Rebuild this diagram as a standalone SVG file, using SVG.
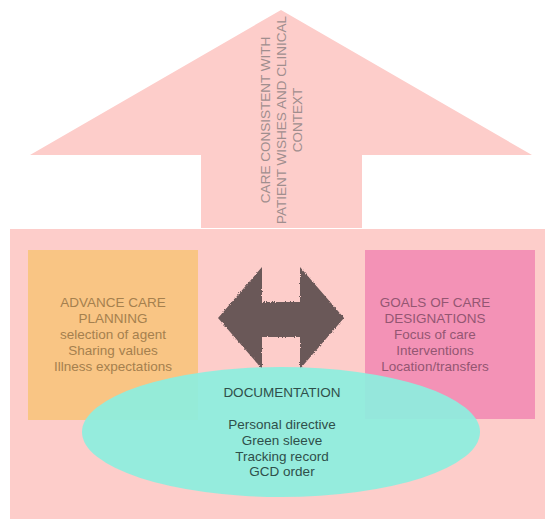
<svg xmlns="http://www.w3.org/2000/svg" width="545" height="519" viewBox="0 0 545 519">
<defs>
<style>
text{font-family:"Liberation Sans",Arial,sans-serif;font-size:13.5px;text-anchor:middle}
.up{fill:#a08e8e}
.acp{fill:#a5804e}
.gcd{fill:#935672}
.doc{fill:#2f4f4a}
</style>
<filter id="rough" x="-10%" y="-10%" width="120%" height="120%">
<feTurbulence type="fractalNoise" baseFrequency="0.9" numOctaves="2" seed="3" result="n"/>
<feDisplacementMap in="SourceGraphic" in2="n" scale="3" xChannelSelector="R" yChannelSelector="G"/>
</filter>
</defs>
<rect width="545" height="519" fill="#ffffff"/>
<g id="outcome">
<polygon points="281,10 532,155 362,155 362,228 201,228 201,155 30,155" fill="#fdcdca"/>
<g transform="translate(281,120) rotate(-90)">
<text class="up" x="0" y="-11">CARE CONSISTENT WITH</text>
<text class="up" x="0" y="5">PATIENT WISHES AND CLINICAL</text>
<text class="up" x="0" y="21">CONTEXT</text>
</g>
</g>
<g id="base">
<rect x="10" y="229" width="535" height="290" fill="#fdcdca"/>
</g>
<g id="advance-care-planning">
<rect x="28" y="250" width="170" height="170" fill="#f9c584"/>
<text class="acp" x="113" y="307">ADVANCE CARE</text>
<text class="acp" x="113" y="323">PLANNING</text>
<text class="acp" x="113" y="339">selection of agent</text>
<text class="acp" x="113" y="355">Sharing values</text>
<text class="acp" x="113" y="371">Illness expectations</text>
</g>
<g id="goals-of-care">
<rect x="365" y="250" width="170" height="169" fill="#f392b6"/>
<text class="gcd" x="435" y="307">GOALS OF CARE</text>
<text class="gcd" x="435" y="323">DESIGNATIONS</text>
<text class="gcd" x="435" y="339">Focus of care</text>
<text class="gcd" x="435" y="355">Interventions</text>
<text class="gcd" x="435" y="371">Location/transfers</text>
</g>
<g id="connectors">
<polygon filter="url(#rough)" points="218,318 262,267 262,302 300,302 300,267 344,318 300,369 300,337 262,337 262,369" fill="#6b5858"/>
</g>
<g id="documentation">
<ellipse cx="281" cy="432" rx="199" ry="65" fill="#8deedf" fill-opacity="0.93"/>
<text class="doc" x="282" y="397">DOCUMENTATION</text>
<text class="doc" x="282" y="429">Personal directive</text>
<text class="doc" x="282" y="445">Green sleeve</text>
<text class="doc" x="282" y="461">Tracking record</text>
<text class="doc" x="282" y="476">GCD order</text>
</g>
</svg>
